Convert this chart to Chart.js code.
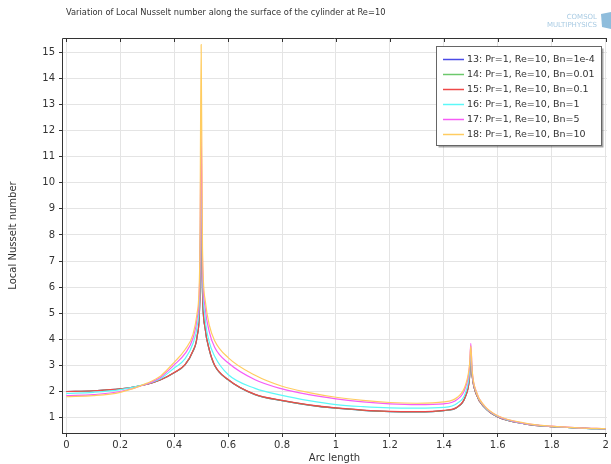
<!DOCTYPE html>
<html>
<head>
<meta charset="utf-8">
<script src="https://cdn.jsdelivr.net/npm/chart.js@4/dist/chart.umd.min.js"></script>
<style>
  html, body { margin: 0; padding: 0; background: #fff; }
  #wrap { width: 611px; height: 464px; position: relative; }
</style>
</head>
<body>
<div id="wrap"><canvas id="nusselt"></canvas></div>
<script>
// arc length positions (shared by every curve)
const arcLength = [0, 0.1, 0.2, 0.3, 0.35, 0.4, 0.44, 0.47, 0.485, 0.495, 0.5, 0.505, 0.515, 0.53, 0.55, 0.6, 0.7, 0.8, 0.9, 1.0,
                   1.1, 1.2, 1.3, 1.4, 1.45, 1.48, 1.495, 1.5, 1.505, 1.52, 1.55, 1.6, 1.7, 1.8, 1.9, 2.0];

// local Nusselt number, one list per Bingham number
const nuBn1e4 = [2.0, 2.03, 2.1, 2.28, 2.45, 2.72, 3.02, 3.55, 4.1, 5.5, 9.3, 5.8, 4.4, 3.6, 3.0, 2.45, 1.88, 1.65, 1.48, 1.36,
                 1.28, 1.23, 1.22, 1.27, 1.4, 1.8, 2.5, 3.3, 2.6, 1.9, 1.4, 1.02, 0.76, 0.65, 0.6, 0.57];
const nuBn001 = [2.0, 2.03, 2.1, 2.28, 2.45, 2.72, 3.02, 3.55, 4.1, 5.5, 9.35, 5.8, 4.4, 3.6, 3.0, 2.45, 1.88, 1.65, 1.48, 1.36,
                 1.28, 1.23, 1.22, 1.27, 1.4, 1.8, 2.5, 3.32, 2.6, 1.9, 1.4, 1.02, 0.76, 0.65, 0.6, 0.57];
const nuBn01 = [2.0, 2.03, 2.1, 2.28, 2.45, 2.73, 3.03, 3.57, 4.12, 5.55, 9.5, 5.85, 4.42, 3.62, 3.02, 2.46, 1.89, 1.66, 1.49, 1.37,
                1.29, 1.24, 1.23, 1.28, 1.41, 1.82, 2.52, 3.38, 2.62, 1.9, 1.4, 1.02, 0.76, 0.65, 0.6, 0.57];
const nuBn1 = [1.93, 1.97, 2.07, 2.3, 2.5, 2.9, 3.25, 3.85, 4.5, 6.0, 10.2, 6.5, 4.8, 3.9, 3.35, 2.65, 2.12, 1.85, 1.65, 1.5,
               1.42, 1.37, 1.36, 1.39, 1.55, 1.95, 2.7, 3.5, 2.7, 1.95, 1.42, 1.04, 0.77, 0.66, 0.6, 0.57];
const nuBn5 = [1.84, 1.88, 2.0, 2.3, 2.55, 3.02, 3.45, 4.05, 4.8, 6.5, 12.0, 7.0, 5.2, 4.3, 3.7, 3.1, 2.45, 2.1, 1.88, 1.72,
               1.6, 1.53, 1.5, 1.53, 1.7, 2.15, 2.95, 3.85, 2.8, 2.0, 1.45, 1.06, 0.78, 0.67, 0.61, 0.58];
const nuBn10 = [1.8, 1.84, 1.97, 2.32, 2.6, 3.12, 3.6, 4.2, 5.0, 7.0, 15.3, 7.5, 5.5, 4.55, 3.95, 3.3, 2.62, 2.2, 1.96, 1.78,
                1.66, 1.58, 1.55, 1.6, 1.78, 2.24, 3.0, 3.75, 2.8, 2.0, 1.46, 1.07, 0.79, 0.67, 0.61, 0.58];

const seriesLabels = ["13: Pr=1, Re=10, Bn=1e-4", "14: Pr=1, Re=10, Bn=0.01", "15: Pr=1, Re=10, Bn=0.1",
                      "16: Pr=1, Re=10, Bn=1", "17: Pr=1, Re=10, Bn=5", "18: Pr=1, Re=10, Bn=10"];
const seriesValues = [nuBn1e4, nuBn001, nuBn01, nuBn1, nuBn5, nuBn10];
const seriesColors = ["#4b4be6", "#6cc86c", "#ee4848", "#5cf8f8", "#f65cf6", "#ffcc60"];

const xTicks = [0, 0.2, 0.4, 0.6, 0.8, 1, 1.2, 1.4, 1.6, 1.8, 2];
const yTicks = [1, 2, 3, 4, 5, 6, 7, 8, 9, 10, 11, 12, 13, 14, 15];

const FONT = "'DejaVu Sans', sans-serif";
const INK = "#333333";

// build the datasets, later runs drawn on top (like the COMSOL plot)
let datasets = [];
seriesValues.forEach((vals, i) => {
  datasets.push({
    label: seriesLabels[i],
    data: arcLength.map((x, k) => ({x: x, y: vals[k]})),
    borderColor: seriesColors[i],
    backgroundColor: seriesColors[i],
    borderWidth: 1.2,
    pointRadius: 0,
    cubicInterpolationMode: 'monotone',
    order: seriesValues.length - i
  });
});

// title, logo, frame and legend box drawn by hand
const decorations = {
  id: 'decorations',
  afterDraw(chart) {
    const ctx = chart.ctx;
    const a = chart.chartArea;
    ctx.save();

    // title
    ctx.fillStyle = INK;
    ctx.font = "8.3px " + FONT;
    ctx.textBaseline = 'middle';
    ctx.textAlign = 'left';
    ctx.fillText("Variation of Local Nusselt number along the surface of the cylinder at Re=10", 66, 13);

    // logo text
    ctx.fillStyle = "#a9cbe3";
    ctx.font = "7px " + FONT;
    ctx.textAlign = 'right';
    ctx.fillText("COMSOL", 597, 17);
    ctx.fillText("MULTIPHYSICS", 597, 25);
    ctx.fillStyle = "#8fbddc";
    ctx.beginPath();
    ctx.moveTo(601, 14); ctx.lineTo(611, 12); ctx.lineTo(611, 29); ctx.lineTo(602, 27);
    ctx.closePath();
    ctx.fill();

    // frame
    ctx.strokeStyle = INK;
    ctx.lineWidth = 1;
    ctx.beginPath();
    ctx.moveTo(a.left + 0.5, a.bottom + 0.5);
    ctx.lineTo(a.left + 0.5, a.top + 0.5);
    ctx.lineTo(a.right, a.top + 0.5);
    ctx.moveTo(a.left, a.bottom + 0.5);
    ctx.lineTo(a.right, a.bottom + 0.5);
    ctx.stroke();
    // small ticks on the top edge
    const xs = chart.scales.x;
    ctx.beginPath();
    xTicks.forEach(t => {
      const px = Math.round(xs.getPixelForValue(t)) + 0.5;
      ctx.moveTo(px, a.top);
      ctx.lineTo(px, a.top + 4);
    });
    ctx.stroke();

    // legend
    const lx = 436.5, ly = 46.5, lw = 165, lh = 99;
    ctx.fillStyle = "rgba(0,0,0,0.35)";
    ctx.fillRect(lx + 2, ly + 2, lw, lh);
    ctx.fillStyle = "#ffffff";
    ctx.fillRect(lx, ly, lw, lh);
    ctx.strokeStyle = "#666666";
    ctx.strokeRect(lx, ly, lw, lh);
    ctx.font = "9.5px " + FONT;
    ctx.textAlign = 'left';
    ctx.textBaseline = 'middle';
    seriesLabels.forEach((lab, i) => {
      const yy = 59.5 + i * 15;
      ctx.strokeStyle = seriesColors[i];
      ctx.lineWidth = 1.5;
      ctx.beginPath();
      ctx.moveTo(443, yy);
      ctx.lineTo(464, yy);
      ctx.stroke();
      ctx.fillStyle = INK;
      ctx.fillText(lab, 467, yy + 0.5);
    });
    ctx.restore();
  }
};

const config = {
  type: 'line',
  data: { datasets: datasets },
  options: {
    responsive: true,
    maintainAspectRatio: false,
    animation: false,
    events: [],
    layout: { padding: { top: 38, right: 4, left: 0, bottom: 0 } },
    plugins: {
      legend: { display: false },
      title: { display: false },
      tooltip: { enabled: false }
    },
    scales: {
      x: {
        type: 'linear',
        min: -0.016,
        max: 2.005,
        afterFit: s => { s.height = 31; },
        afterBuildTicks: s => { s.ticks = xTicks.map(v => ({value: v})); },
        grid: { color: '#e4e4e4', tickColor: INK, tickLength: 4, drawTicks: true },
        border: { display: false },
        ticks: {
          color: INK, font: { family: FONT, size: 10 }, padding: 2, maxRotation: 0,
          callback: v => String(Math.round(v * 10) / 10)
        },
        title: { display: true, text: 'Arc length', color: INK, font: { family: FONT, size: 10 }, padding: { top: 3, bottom: 0 } }
      },
      y: {
        min: 0.41,
        max: 15.55,
        afterFit: s => { s.width = 62; },
        afterBuildTicks: s => { s.ticks = yTicks.map(v => ({value: v})); },
        grid: { color: '#e4e4e4', tickColor: INK, tickLength: 3, drawTicks: true },
        border: { display: false },
        ticks: { color: INK, font: { family: FONT, size: 10 }, padding: 4 },
        title: { display: true, text: 'Local Nusselt number', color: INK, font: { family: FONT, size: 10 }, padding: { top: 7, bottom: 0 } }
      }
    }
  },
  plugins: [decorations]
};

const chart = new Chart(document.getElementById('nusselt').getContext('2d'), config);
</script>
</body>
</html>
